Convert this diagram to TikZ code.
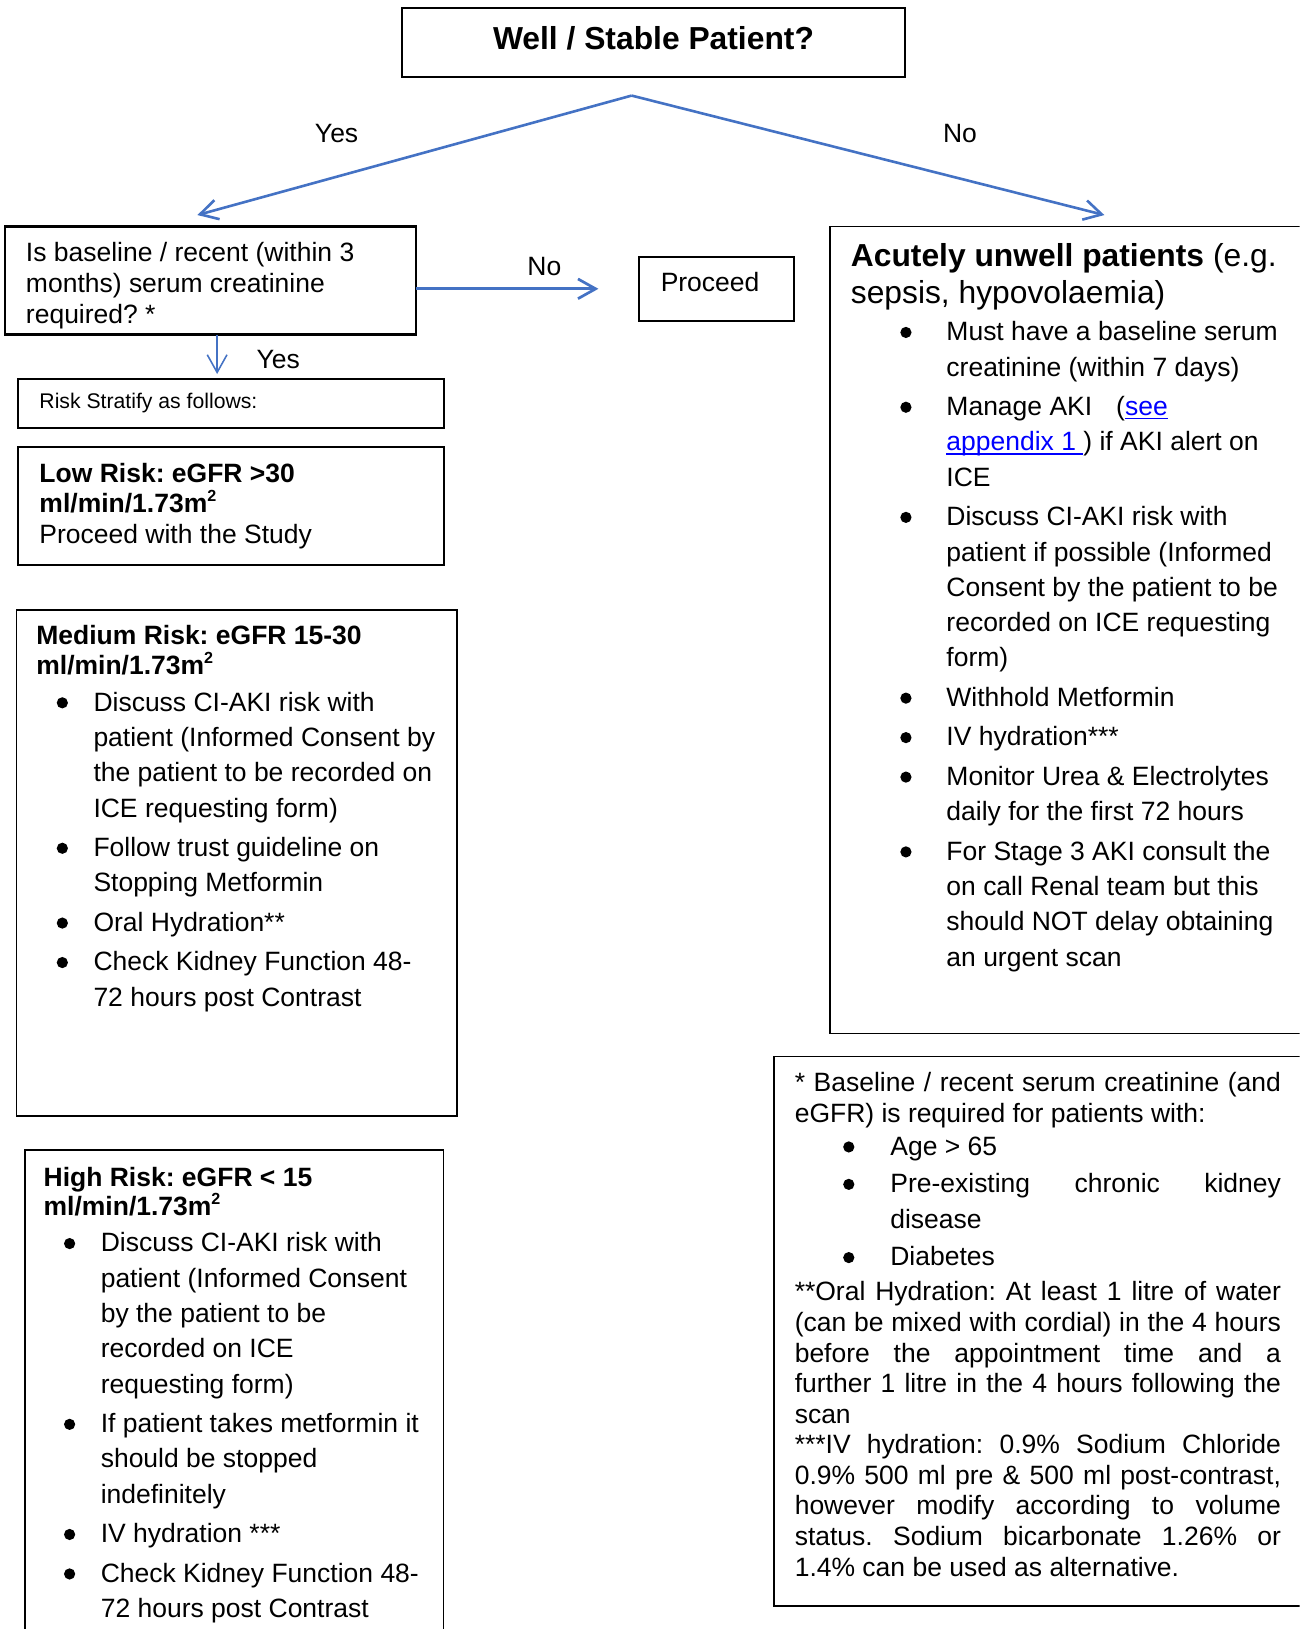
\documentclass[tikz,border=0pt]{standalone}
\usepackage{fontspec}
\setmainfont{Liberation Sans}
\usetikzlibrary{arrows.meta}
\definecolor{arrblue}{HTML}{4472C4}
\definecolor{linkblue}{HTML}{0000FF}
\frenchspacing
\newcommand\fbody{\fontsize{25.5}{29.5}\selectfont}
\newcommand\fbul{\fontsize{25.5}{34}\selectfont}
\newcommand\ftitle{\fontsize{30.6}{35}\selectfont}
\newcommand\fsmall{\fontsize{20.4}{24}\selectfont}
\newlength\bind
\newlength\tind
\newcommand\bul{\tikz[baseline=0pt]{\path (0pt,0pt) (11pt,0pt); \fill[black] (5.5pt,8pt) circle[radius=5.4pt];}}
\newcommand\bitem[1]{\par\noindent\hangindent=\tind\hangafter=1\makebox[\tind][l]{\hspace{\bind}\bul}#1\par}
\newcommand\igap{\vspace{4pt}}
\newcommand\sq{\raisebox{10.5pt}{\fontsize{15.5}{15.5}\selectfont\bfseries 2}}
\newcommand\lnk[1]{\textcolor{linkblue}{\setbox0=\hbox{#1}\rlap{\rule[-3.5pt]{\wd0}{1.6pt}}\box0}}
\begin{document}
\begin{tikzpicture}[x=1pt,y=-1pt,
  boxthick/.style={draw=black, line width=2pt, rectangle, inner sep=0pt, outer sep=0pt},
  boxthin/.style={draw=black, line width=1.4pt, rectangle, inner sep=0pt, outer sep=0pt},
  txt/.style={inner sep=0pt, outer sep=0pt, anchor=base west, text=black},
  arr/.style={draw=arrblue, line width=2.5pt, -{Straight Barb[length=17pt,width=19pt]}}]
\useasboundingbox (0,0) rectangle (1251,1568);
\fill[white] (0,0) rectangle (1251,1568);
\clip (0,0) rectangle (1251,1568);

% top question
\node[boxthick, minimum width=484pt, minimum height=66pt] (top) at (629,41) {};
\node[txt, anchor=base] (topT) at (629,48) {\ftitle\bfseries Well / Stable Patient?};

\coordinate (apex) at (608,92);
\coordinate (yesE) at (190,207);
\coordinate (noE) at (1063,207);
\draw[arr] (apex) -- (yesE);
\draw[arr] (apex) -- (noE);
\node[txt, anchor=base] (yesL) at (324,137) {\fbody Yes};
\node[txt, anchor=base] (noL) at (924,137) {\fbody No};

% baseline question
\node[boxthick, minimum width=395pt, minimum height=104pt] (q) at (202.5,270) {};
\node[txt] (qT) at (25,252) {\parbox[t]{400pt}{\fbody Is baseline / recent (within 3\\months) serum creatinine\\required? *}};

\coordinate (pE) at (576,278);
\draw[arr, line width=2.6pt] (q.east |- pE) -- (pE);
\node[txt, anchor=base] (noL2) at (524,265) {\fbody No};
\node[boxthick, minimum width=149pt, minimum height=62pt] (proc) at (689.5,278) {};
\node[txt] (procT) at (636,281) {\fbody Proceed};

\coordinate (dE) at (209,360);
\draw[arr, line width=1.5pt] (q.south -| dE) -- (dE);
\node[txt] (yesL2) at (247,355) {\fbody Yes};

% risk stratify
\node[boxthick, minimum width=410pt, minimum height=47pt] (risk) at (222,388.5) {};
\node[txt] (riskT) at (38,393) {\fsmall Risk Stratify as follows:};

% low risk
\node[boxthick, minimum width=410pt, minimum height=114pt] (low) at (222,487) {};
\node[txt] (lowT) at (38,464) {\parbox[t]{400pt}{\fbody\textbf{Low Risk: eGFR >30}\\\textbf{ml/min/1.73m\sq}\\Proceed with the Study}};

% medium risk
\node[boxthin, minimum width=424pt, minimum height=487pt] (med) at (228,830.5) {};
\node[txt] (medT) at (35,620) {\parbox[t]{420pt}{\fbody\textbf{Medium Risk: eGFR 15-30}\\\textbf{ml/min/1.73m\sq}\par
\fbul\setlength\bind{19.5pt}\setlength\tind{55pt}%
\vspace{1pt}%
\bitem{Discuss CI-AKI risk with\\patient (Informed Consent by\\the patient to be recorded on\\ICE requesting form)}\igap
\bitem{Follow trust guideline on\\Stopping Metformin}\igap
\bitem{Oral Hydration**}\igap
\bitem{Check Kidney Function 48-\\72 hours post Contrast}}};

% high risk
\node[boxthin, line width=1.6pt, minimum width=403pt, minimum height=480pt] (high) at (225.5,1347) {};
\node[txt] (highT) at (42,1142) {\parbox[t]{420pt}{\fbody\textbf{High Risk: eGFR < 15}\\[-1.5pt]\textbf{ml/min/1.73m\sq}\par
\fbul\setlength\bind{19.5pt}\setlength\tind{55pt}%
\vspace{1pt}%
\bitem{Discuss CI-AKI risk with\\patient (Informed Consent\\by the patient to be\\recorded on ICE\\requesting form)}\igap
\bitem{If patient takes metformin it\\should be stopped\\indefinitely}\igap
\bitem{IV hydration ***}\igap
\bitem{Check Kidney Function 48-\\72 hours post Contrast}}};

% acutely unwell
\node[boxthin, minimum width=480pt, minimum height=777pt] (acute) at (1039,606.5) {};
\node[txt] (acuteT) at (819,257) {\parbox[t]{460pt}{\ftitle\textbf{Acutely unwell patients} (e.g.\\sepsis, hypovolaemia)\par
\fbul\setlength\bind{47.5pt}\setlength\tind{92pt}%
\vspace{2pt}%
\bitem{Must have a baseline serum\\creatinine (within 7 days)}\igap
\bitem{Manage AKI\hspace{16pt} (\lnk{see}\\\lnk{appendix 1\ }) if AKI alert on\\ICE}\igap
\bitem{Discuss CI-AKI risk with\\patient if possible (Informed\\Consent by the patient to be\\recorded on ICE requesting\\form)}\igap
\bitem{Withhold Metformin}\igap
\bitem{IV hydration***}\igap
\bitem{Monitor Urea \& Electrolytes\\daily for the first 72 hours}\igap
\bitem{For Stage 3 AKI consult the\\on call Renal team but this\\should NOT delay obtaining\\an urgent scan}}};

% footnotes
\node[boxthin, line width=1.6pt, minimum width=530pt, minimum height=529pt] (foot) at (1010,1281.5) {};
\node[txt] (footT) at (765,1051) {\parbox[t]{480pt}{\fbody
\makebox[468pt][s]{* Baseline / recent serum creatinine (and}\\
eGFR) is required for patients with:\par
\vspace{2pt}%
\setlength\bind{46.5pt}\setlength\tind{92pt}%
\bitem{Age > 65}
\vspace{6.5pt}%
\bitem{\makebox[376pt][s]{Pre-existing chronic kidney}\\[5pt]disease}
\vspace{6.5pt}%
\bitem{Diabetes}
\vspace{4pt}%
\noindent\makebox[468pt][s]{**Oral Hydration: At least 1 litre of water}\\
\makebox[468pt][s]{(can be mixed with cordial) in the 4 hours}\\
\makebox[468pt][s]{before the appointment time and a}\\
\makebox[468pt][s]{further 1 litre in the 4 hours following the}\\
scan\\[-0.5pt]
\makebox[468pt][s]{***IV hydration: 0.9\% Sodium Chloride}\\
\makebox[468pt][s]{0.9\% 500 ml pre \& 500 ml post-contrast,}\\
\makebox[468pt][s]{however modify according to volume}\\
\makebox[468pt][s]{status. Sodium bicarbonate 1.26\% or}\\
1.4\% can be used as alternative.}};
\end{tikzpicture}
\end{document}
